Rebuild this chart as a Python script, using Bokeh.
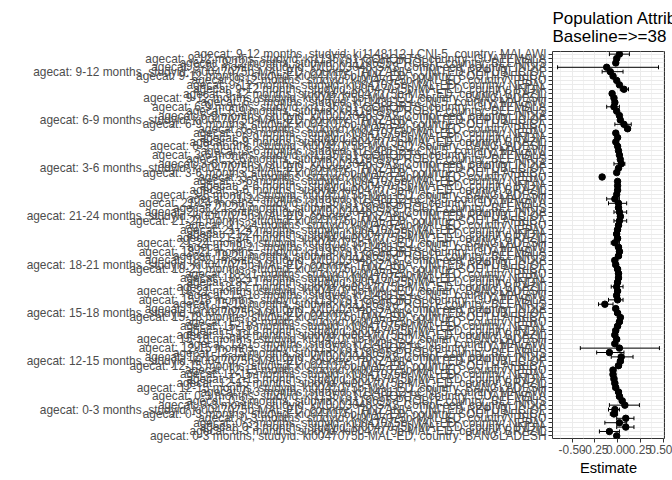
from bokeh.plotting import figure
from bokeh.models import (FactorRange, Range1d, FixedTicker, NumeralTickFormatter,
                          Whisker, TeeHead, ColumnDataSource)
from bokeh.embed import file_html
from bokeh.resources import INLINE

# ---- data (rows listed bottom -> top) ----
agecats = ["0-3 months", "12-15 months", "15-18 months", "18-21 months",
           "21-24 months", "3-6 months", "6-9 months", "9-12 months"]
studies = ["ki0047075b-MAL-ED"] * 7 + ["ki1000304b-SAS-CompFeed", "ki1119695-PROBIT",
                                       "ki1135781-COHORTS", "ki1148112-LCNI-5"]
countries = ["BANGLADESH", "BRAZIL", "INDIA", "NEPAL", "PERU", "SOUTH AFRICA",
             "TANZANIA, UNITED REPUBLIC OF", "INDIA", "BELARUS", "GUATEMALA", "MALAWI"]

est = [
    -0.01, -0.09, 0.09, 0.02, 0.09, -0.04, -0.03, 0.08, 0.05, 0.02, 0.01,
    -0.02, -0.03, -0.04, -0.05, -0.05, 0.01, 0.03, 0.04, -0.09, 0.02, -0.03,
    -0.01, -0.03, -0.02, 0.00, 0.02, 0.03, 0.00, -0.02, -0.14, 0.00, -0.01,
    0.00, -0.01, 0.00, 0.01, 0.01, 0.00, -0.02, -0.03, 0.01, 0.02, 0.01,
    -0.03, 0.00, -0.01, 0.00, 0.01, 0.02, 0.03, 0.02, 0.01, 0.01, -0.03,
    -0.01, 0.00, 0.00, 0.00, -0.17, -0.01, 0.01, 0.04, 0.03, 0.02, 0.01,
    0.00, -0.02, 0.00, -0.02, 0.11, 0.07, 0.03, 0.02, -0.01, -0.04, -0.03,
    -0.04, -0.06, 0.07, 0.02, -0.01, -0.05, -0.08, -0.12, -0.02, -0.01, 0.02,
]
ci_lo = [
    -0.03, -0.20, -0.01, -0.14, -0.01, -0.08, -0.10, -0.09, 0.02, -0.01, -0.02,
    -0.05, -0.06, -0.07, -0.08, -0.08, -0.02, 0.00, -0.07, -0.23, -0.41, -0.06,
    -0.04, -0.06, -0.05, -0.03, -0.01, 0.00, -0.03, -0.05, -0.21, -0.10, -0.04,
    -0.03, -0.07, -0.03, -0.02, -0.02, -0.03, -0.05, -0.06, -0.02, -0.01, -0.02,
    -0.07, -0.03, -0.04, -0.03, -0.02, -0.04, 0.00, -0.04, -0.02, -0.10, -0.12,
    -0.03, -0.02, -0.02, -0.02, -0.19, -0.03, -0.01, -0.04, 0.01, 0.00, -0.01,
    -0.02, -0.04, -0.02, -0.04, 0.08, -0.03, 0.01, 0.00, -0.03, -0.12, -0.05,
    -0.06, -0.08, 0.03, 0.00, -0.03, -0.07, -0.17, -0.66, -0.04, -0.03, -0.09,
]
ci_hi = [
    0.01, 0.02, 0.18, 0.10, 0.18, 0.00, 0.02, 0.24, 0.08, 0.05, 0.04,
    0.01, 0.00, -0.01, -0.02, -0.02, 0.04, 0.06, 0.17, 0.07, 0.46, 0.00,
    0.02, 0.00, 0.01, 0.03, 0.05, 0.06, 0.03, 0.01, -0.05, 0.06, 0.02,
    0.03, 0.06, 0.03, 0.04, 0.04, 0.03, 0.01, 0.00, 0.04, 0.05, 0.04,
    0.02, 0.03, 0.02, 0.03, 0.04, 0.10, 0.06, 0.10, 0.04, 0.10, 0.02,
    0.01, 0.02, 0.02, 0.02, -0.15, 0.01, 0.03, 0.08, 0.05, 0.04, 0.03,
    0.02, 0.00, 0.02, 0.00, 0.14, 0.15, 0.05, 0.04, 0.01, 0.02, -0.01,
    -0.02, -0.04, 0.12, 0.04, 0.01, -0.03, 0.06, 0.45, 0.00, 0.01, 0.13,
]
x_ticks = [-0.5, -0.25, 0.0, 0.25, 0.5]
x_minor = [-0.625, -0.375, -0.125, 0.125, 0.375]

labels = [f"agecat: {a}, studyid: {s}, country: {c}"
          for a in agecats for s, c in zip(studies, countries)]

src = ColumnDataSource(dict(y=labels, est=est, lo=ci_lo, hi=ci_hi))

FONT = "Liberation Sans"

p = figure(width=672, height=480,
           y_range=FactorRange(factors=labels, range_padding=0.1,
                               range_padding_units="absolute"),
           x_range=Range1d(-0.716, 0.516),
           output_backend="svg", toolbar_location=None,
           min_border_left=552, min_border_right=8,
           min_border_top=51, min_border_bottom=42)

p.title.text = "Population Attributable Risk\nBaseline=>=38"
p.title.text_font = FONT
p.title.text_font_size = "17px"
p.title.text_font_style = "normal"
p.title.text_color = "black"
p.title.text_line_height = 0.95
p.title.align = "left"
p.title.standoff = 10

p.background_fill_color = "white"
p.border_fill_color = "white"
p.outline_line_color = "#333333"
p.outline_line_width = 1

# grids
p.ygrid.grid_line_color = "#EBEBEB"
p.ygrid.grid_line_width = 1
p.xgrid.grid_line_color = "#EBEBEB"
p.xgrid.grid_line_width = 1
p.xgrid.minor_grid_line_color = "#F2F2F2"
p.xgrid.minor_grid_line_width = 1

# x axis
p.xaxis.ticker = FixedTicker(ticks=x_ticks, minor_ticks=x_minor)
p.xaxis.formatter = NumeralTickFormatter(format="0.00")
p.xaxis.axis_label = "Estimate"
p.xaxis.axis_label_text_font = FONT
p.xaxis.axis_label_text_font_size = "14.7px"
p.xaxis.axis_label_text_font_style = "normal"
p.xaxis.axis_label_text_color = "black"
p.xaxis.axis_label_standoff = 3
p.xaxis.major_label_text_font = FONT
p.xaxis.major_label_text_font_size = "11.9px"
p.xaxis.major_label_text_color = "#4D4D4D"
p.xaxis.major_label_standoff = 2
p.xaxis.minor_tick_line_color = None
p.xaxis.major_tick_in = 0
p.xaxis.major_tick_out = 4
p.xaxis.major_tick_line_color = "#333333"
p.xaxis.axis_line_color = None

# y axis
p.yaxis.major_label_text_font = FONT
p.yaxis.major_label_text_font_size = "11.9px"
p.yaxis.major_label_text_color = "#4D4D4D"
p.yaxis.major_label_standoff = 2
p.yaxis.major_tick_in = 0
p.yaxis.major_tick_out = 4
p.yaxis.major_tick_line_color = "#333333"
p.yaxis.axis_line_color = None

# error bars and points
wh = Whisker(base="y", lower="lo", upper="hi", dimension="width", source=src,
             line_color="black", line_width=1,
             upper_head=TeeHead(size=4, line_color="black", line_width=1),
             lower_head=TeeHead(size=4, line_color="black", line_width=1))
p.add_layout(wh)
p.scatter(x="est", y="y", source=src, size=6.5, color="black")

open("out.html", "w").write(file_html(p, INLINE))
